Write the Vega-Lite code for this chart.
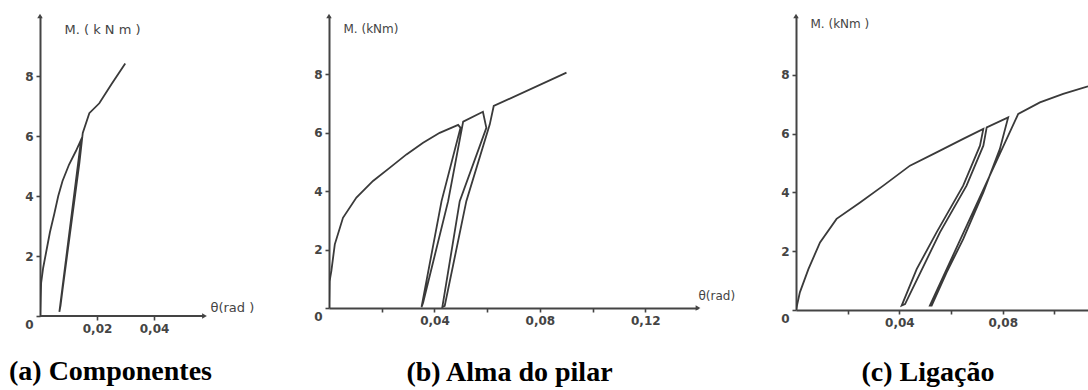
{
  "$schema": "https://vega.github.io/schema/vega-lite/v6.json",
  "background": "white",
  "padding": {"left": 9, "top": 13, "right": 0, "bottom": 0},
  "autosize": {"type": "pad"},
  "bounds": "flush",
  "spacing": 98,
  "config": {
    "view": {"stroke": null},
    "axis": {"domainColor": "#444", "domainWidth": 2, "tickColor": "#444", "tickWidth": 1.6, "tickSize": 4, "labelColor": "#444", "labelFont": "DejaVu Sans", "labelFontSize": 12, "labelFontWeight": "bold", "grid": false, "titleFont": "DejaVu Sans", "titleFontSize": 12, "titleFontWeight": "normal", "titleColor": "#444", "labelPadding": 3, "labelFlush": false, "labelOverlap": false},
    "title": {"font": "Liberation Serif", "fontSize": 28, "fontWeight": "bold", "color": "#000", "orient": "bottom", "anchor": "middle", "frame": "group"},
    "line": {"color": "#3a3a3a", "strokeWidth": 1.8}
  },
  "datasets": {
    "a": [
      {"i": 0, "theta": 0, "M": 0}, {"i": 1, "theta": 0.0002, "M": 0.6}, {"i": 2, "theta": 0.0004, "M": 1.1},
      {"i": 3, "theta": 0.0011, "M": 1.6}, {"i": 4, "theta": 0.0021, "M": 2.1}, {"i": 5, "theta": 0.0035, "M": 2.8},
      {"i": 6, "theta": 0.005, "M": 3.4}, {"i": 7, "theta": 0.0064, "M": 4.0}, {"i": 8, "theta": 0.0079, "M": 4.5},
      {"i": 9, "theta": 0.0102, "M": 5.05}, {"i": 10, "theta": 0.0126, "M": 5.5}, {"i": 11, "theta": 0.0149, "M": 5.98},
      {"i": 12, "theta": 0.0144, "M": 5.87}, {"i": 13, "theta": 0.0068, "M": 0.14}, {"i": 14, "theta": 0.0072, "M": 0.35},
      {"i": 15, "theta": 0.0079, "M": 0.87}, {"i": 16, "theta": 0.0138, "M": 5.09}, {"i": 17, "theta": 0.015, "M": 6.1},
      {"i": 18, "theta": 0.0173, "M": 6.76}, {"i": 19, "theta": 0.0208, "M": 7.09}, {"i": 20, "theta": 0.025, "M": 7.72},
      {"i": 21, "theta": 0.0299, "M": 8.42}
    ],
    "b": [
      {"i": 0, "theta": 0, "M": 0}, {"i": 1, "theta": 0.0002, "M": 0.9}, {"i": 2, "theta": 0.0009, "M": 1.27},
      {"i": 3, "theta": 0.0022, "M": 2.18}, {"i": 4, "theta": 0.0053, "M": 3.09}, {"i": 5, "theta": 0.0104, "M": 3.78},
      {"i": 6, "theta": 0.0167, "M": 4.35}, {"i": 7, "theta": 0.023, "M": 4.8}, {"i": 8, "theta": 0.0294, "M": 5.26},
      {"i": 9, "theta": 0.0357, "M": 5.66}, {"i": 10, "theta": 0.042, "M": 6.0}, {"i": 11, "theta": 0.049, "M": 6.27},
      {"i": 12, "theta": 0.0499, "M": 6.17}, {"i": 13, "theta": 0.0427, "M": 3.66}, {"i": 14, "theta": 0.0351, "M": 0.03},
      {"i": 15, "theta": 0.0357, "M": 0.18}, {"i": 16, "theta": 0.0452, "M": 3.66}, {"i": 17, "theta": 0.0509, "M": 6.38},
      {"i": 18, "theta": 0.0584, "M": 6.72}, {"i": 19, "theta": 0.0597, "M": 6.17}, {"i": 20, "theta": 0.0496, "M": 3.66},
      {"i": 21, "theta": 0.043, "M": 0.03}, {"i": 22, "theta": 0.0439, "M": 0.07}, {"i": 23, "theta": 0.0521, "M": 3.66},
      {"i": 24, "theta": 0.061, "M": 6.29}, {"i": 25, "theta": 0.0625, "M": 6.92}, {"i": 26, "theta": 0.0901, "M": 8.06}
    ],
    "c": [
      {"i": 0, "theta": 0, "M": 0}, {"i": 1, "theta": 0.0015, "M": 0.6}, {"i": 2, "theta": 0.0048, "M": 1.39},
      {"i": 3, "theta": 0.0093, "M": 2.3}, {"i": 4, "theta": 0.0157, "M": 3.1}, {"i": 5, "theta": 0.0248, "M": 3.66},
      {"i": 6, "theta": 0.0338, "M": 4.23}, {"i": 7, "theta": 0.0441, "M": 4.91}, {"i": 8, "theta": 0.0544, "M": 5.36},
      {"i": 9, "theta": 0.0647, "M": 5.82}, {"i": 10, "theta": 0.0725, "M": 6.16}, {"i": 11, "theta": 0.0712, "M": 5.59},
      {"i": 12, "theta": 0.0647, "M": 4.23}, {"i": 13, "theta": 0.0544, "M": 2.64}, {"i": 14, "theta": 0.0467, "M": 1.39},
      {"i": 15, "theta": 0.0409, "M": 0.15}, {"i": 16, "theta": 0.0422, "M": 0.2}, {"i": 17, "theta": 0.0557, "M": 2.64},
      {"i": 18, "theta": 0.066, "M": 4.23}, {"i": 19, "theta": 0.0725, "M": 5.59}, {"i": 20, "theta": 0.0738, "M": 6.21},
      {"i": 21, "theta": 0.0821, "M": 6.55}, {"i": 22, "theta": 0.0789, "M": 5.48}, {"i": 23, "theta": 0.0725, "M": 4.0},
      {"i": 24, "theta": 0.0647, "M": 2.41}, {"i": 25, "theta": 0.0583, "M": 1.28}, {"i": 26, "theta": 0.0525, "M": 0.15},
      {"i": 27, "theta": 0.0518, "M": 0.15}, {"i": 28, "theta": 0.086, "M": 6.67}, {"i": 29, "theta": 0.0944, "M": 7.06},
      {"i": 30, "theta": 0.1034, "M": 7.35}, {"i": 31, "theta": 0.113, "M": 7.61}
    ]
  },
  "hconcat": [
    {
      "width": 191,
      "height": 300,
      "title": {"text": "(a) Componentes", "dx": -25, "offset": 24},
      "layer": [
        {
          "data": {"values": [{"theta": 0, "theta2": 0.0577, "M": 0}]},
          "mark": {"type": "rule", "color": "#444", "strokeWidth": 2},
          "encoding": {"x": {"field": "theta", "type": "quantitative"}, "x2": {"field": "theta2"}, "y": {"field": "M", "type": "quantitative"}}
        },
        {
          "data": {"name": "a"},
          "mark": {"type": "line", "clip": true},
          "encoding": {
            "x": {"field": "theta", "type": "quantitative", "scale": {"domain": [0, 0.067], "nice": false, "zero": true},
              "axis": {"domain": false, "values": [0.02, 0.04], "labelExpr": "replace(format(datum.value, '.2f'), '.', ',')", "title": "θ(rad )", "titleX": 170, "titleY": -9, "titleFontSize": 13, "titleAlign": "left", "titleBaseline": "middle"}},
            "y": {"field": "M", "type": "quantitative", "scale": {"domain": [0, 10], "nice": false},
              "axis": {"values": [0, 1, 2, 3, 4, 5, 6, 7, 8, 9], "labelExpr": "datum.value % 2 == 0 ? datum.label : ''", "title": "M.  ( k N m  )", "titleFontSize": 13, "titleX": 24, "titleY": 13, "titleAngle": 0, "titleAlign": "left", "titleBaseline": "middle", "labelOffset": {"condition": {"test": "datum.value == 0", "value": 8}, "value": 0}}},
            "order": {"field": "i", "type": "quantitative"}
          }
        },
        {
          "data": {"values": [{"theta": 0, "M": 10}]},
          "mark": {"type": "point", "shape": "triangle-up", "filled": true, "size": 30, "color": "#444", "opacity": 1},
          "encoding": {"x": {"field": "theta", "type": "quantitative"}, "y": {"field": "M", "type": "quantitative"}}
        },
        {
          "data": {"values": [{"theta": 0.0577, "M": 0}]},
          "mark": {"type": "point", "shape": "triangle-right", "filled": true, "size": 30, "color": "#444", "opacity": 1},
          "encoding": {"x": {"field": "theta", "type": "quantitative"}, "y": {"field": "M", "type": "quantitative"}}
        }
      ]
    },
    {
      "width": 369,
      "height": 292,
      "title": {"text": "(b) Alma do pilar", "dx": -4, "offset": 33},
      "layer": [
        {
          "data": {"name": "b"},
          "mark": {"type": "line", "clip": true},
          "encoding": {
            "x": {"field": "theta", "type": "quantitative", "scale": {"domain": [0, 0.14], "nice": false, "zero": true},
              "axis": {"values": [0.02, 0.04, 0.06, 0.08, 0.1, 0.12], "labelExpr": "(round(datum.value * 100) % 4 == 0) ? replace(format(datum.value, '.2f'), '.', ',') : ''", "title": "θ(rad)", "titleX": 369, "titleY": -13, "titleAlign": "left", "titleBaseline": "middle"}},
            "y": {"field": "M", "type": "quantitative", "scale": {"domain": [0, 10], "nice": false},
              "axis": {"values": [0, 1, 2, 3, 4, 5, 6, 7, 8, 9], "labelExpr": "datum.value % 2 == 0 ? datum.label : ''", "title": "M. (kNm)", "titleX": 14, "titleY": 12, "titleAngle": 0, "titleAlign": "left", "titleBaseline": "middle", "labelOffset": {"condition": {"test": "datum.value == 0", "value": 8}, "value": 0}}},
            "order": {"field": "i", "type": "quantitative"}
          }
        },
        {
          "data": {"values": [{"theta": 0, "M": 10}]},
          "mark": {"type": "point", "shape": "triangle-up", "filled": true, "size": 30, "color": "#444", "opacity": 1},
          "encoding": {"x": {"field": "theta", "type": "quantitative"}, "y": {"field": "M", "type": "quantitative"}}
        },
        {
          "data": {"values": [{"theta": 0.14, "M": 0}]},
          "mark": {"type": "point", "shape": "triangle-right", "filled": true, "size": 30, "color": "#444", "opacity": 1},
          "encoding": {"x": {"field": "theta", "type": "quantitative"}, "y": {"field": "M", "type": "quantitative"}}
        }
      ]
    },
    {
      "width": 292,
      "height": 294,
      "title": {"text": "(c) Ligação", "dx": -14, "offset": 31},
      "layer": [
        {
          "data": {"name": "c"},
          "mark": {"type": "line", "clip": true},
          "encoding": {
            "x": {"field": "theta", "type": "quantitative", "scale": {"domain": [0, 0.113], "nice": false, "zero": true},
              "axis": {"values": [0.02, 0.04, 0.06, 0.08, 0.1], "labelExpr": "(round(datum.value * 100) % 4 == 0) ? replace(format(datum.value, '.2f'), '.', ',') : ''", "title": null}},
            "y": {"field": "M", "type": "quantitative", "scale": {"domain": [0, 10], "nice": false},
              "axis": {"values": [0, 1, 2, 3, 4, 5, 6, 7, 8, 9], "labelExpr": "datum.value % 2 == 0 ? datum.label : ''", "title": "M. (kNm )", "titleX": 14, "titleY": 7, "titleAngle": 0, "titleAlign": "left", "titleBaseline": "middle", "labelOffset": {"condition": {"test": "datum.value == 0", "value": 8}, "value": 0}}},
            "order": {"field": "i", "type": "quantitative"}
          }
        },
        {
          "data": {"values": [{"theta": 0, "M": 10}]},
          "mark": {"type": "point", "shape": "triangle-up", "filled": true, "size": 30, "color": "#444", "opacity": 1},
          "encoding": {"x": {"field": "theta", "type": "quantitative"}, "y": {"field": "M", "type": "quantitative"}}
        }
      ]
    }
  ]
}
